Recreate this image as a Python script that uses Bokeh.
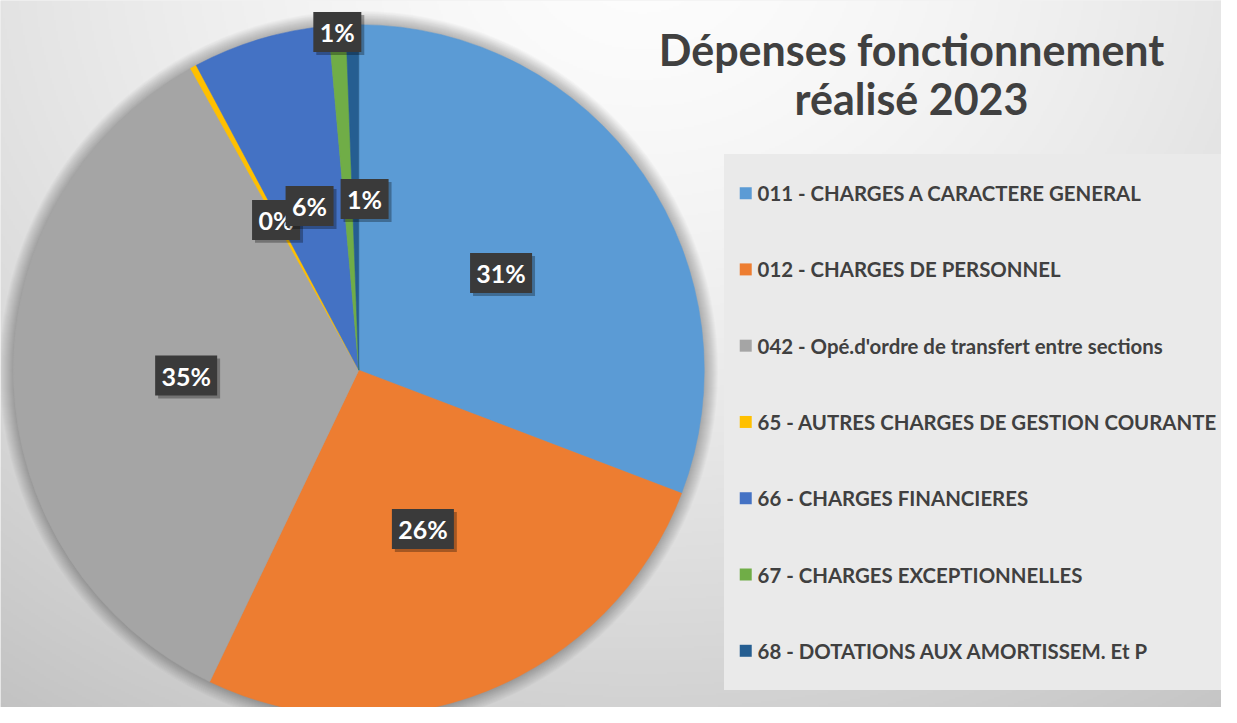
import math
import numpy as np
from bokeh.plotting import figure
from bokeh.models import Range1d, ColumnDataSource
from bokeh.core.properties import value
from bokeh.embed import file_html
from bokeh.resources import INLINE

# ---------------- data ----------------
categories = [
    "011 - CHARGES A CARACTERE GENERAL",
    "012 - CHARGES DE PERSONNEL",
    "042 - Opé.d'ordre de transfert entre sections",
    "65 - AUTRES CHARGES DE GESTION COURANTE",
    "66 - CHARGES FINANCIERES",
    "67 - CHARGES EXCEPTIONNELLES",
    "68 - DOTATIONS AUX AMORTISSEM. Et P",
]
shares = [30.8, 26.3, 34.8, 0.3, 6.4, 0.8, 0.6]
colors = ["#5B9BD5", "#ED7D31", "#A5A5A5", "#FFC000", "#4472C4", "#70AD47", "#255E91"]
title_lines = ["Dépenses fonctionnement", "réalisé 2023"]

# ---------------- styling / layout ----------------
REF_W, REF_H = 1237, 723
W, H = REF_W - 16, REF_H - 16
FONT = "Lato"
TXT = "#404040"


def Y(py):
    return REF_H - py


cx, cy, R = 363, Y(378), 350
label_r = [0.5, 0.5, 0.5, 0.5, 0.5, 0.99, 0.5]
label_shift_deg = [0, 0, 0, 0, 0, 0, 3]

p = figure(width=W, height=H, x_range=Range1d(0, REF_W), y_range=Range1d(0, REF_H),
           x_axis_type=None, y_axis_type=None, toolbar_location=None,
           output_backend="svg", min_border=0)
p.grid.visible = False
p.outline_line_color = None
p.background_fill_color = "#e6e6e6"
p.border_fill_color = "#e6e6e6"

# background gradient
hw, hh = 619, 362
xs = (np.arange(hw) + 0.5) * REF_W / hw
ys = (np.arange(hh) + 0.5) * REF_H / hh
XX, YY = np.meshgrid(xs, ys)
rr = np.sqrt(((XX - 650) / 1000.0) ** 2 + ((YY + 50) / 850.0) ** 2)
g = 253 - 57 * np.clip(rr / 1.1, 0, 1.2) ** 1.5
g = np.clip(g, 0, 255).astype(np.uint8)[::-1]
img = np.empty((hh, hw), dtype=np.uint32)
view = img.view(dtype=np.uint8).reshape((hh, hw, 4))
view[..., 0] = g
view[..., 1] = g
view[..., 2] = g
view[..., 3] = 255
p.image_rgba(image=[img], x=0, y=0, dw=REF_W, dh=REF_H)

# pie shadow
for k in range(1, 15):
    p.circle(x=cx, y=cy, radius=R + k, fill_color="black", fill_alpha=0.02, line_color=None)

# pie wedges
total = sum(shares)
fr = [s / total for s in shares]
cum = np.concatenate([[0.0], np.cumsum(fr)])
starts = [math.pi / 2 - 2 * math.pi * cum[i] for i in range(len(fr))]
ends = [math.pi / 2 - 2 * math.pi * cum[i + 1] for i in range(len(fr))]
src = ColumnDataSource(dict(start=starts, end=ends, color=colors))
p.wedge(x=cx, y=cy, radius=R, start_angle="start", end_angle="end", direction="clock",
        fill_color="color", line_color="color", line_width=0.5, source=src)

# data labels
lx, ly, lt, lw = [], [], [], []
for i, f in enumerate(fr):
    mid = 2 * math.pi * (cum[i] + f / 2) + math.radians(label_shift_deg[i])
    rr_ = R * label_r[i]
    lx.append(cx + rr_ * math.sin(mid))
    ly.append(cy + rr_ * math.cos(mid))
    t = f"{round(f * 100)}%"
    lt.append(t)
    lw.append(20 + 14 * len(t))
for i in range(len(lt)):
    p.rect(x=lx[i] + 3, y=ly[i] - 3, width=lw[i], height=40, width_units="screen",
           height_units="screen", fill_color="black", fill_alpha=0.3, line_color=None)
    p.rect(x=lx[i], y=ly[i], width=lw[i], height=40, width_units="screen",
           height_units="screen", fill_color="#3a3a3a", line_color=None)
    p.text(x=[lx[i]], y=[ly[i]], text=[lt[i]], text_font=value(FONT), text_font_style="bold",
           text_font_size="25px", text_color="white", text_align="center",
           text_baseline="middle")

# title
p.text(x=[923, 923], y=[Y(50), Y(100)], text=title_lines, text_font=value(FONT),
       text_font_style="bold", text_font_size="43px", text_color=TXT,
       text_align="center", text_baseline="middle")

# legend
p.quad(left=733, right=REF_W + 10, top=Y(157), bottom=Y(705), fill_color="#eaeaea",
       line_color=None)
leg_y = [Y(197 + 78 * i) for i in range(len(categories))]
p.rect(x=[755] * len(categories), y=leg_y, width=12, height=12, width_units="screen",
       height_units="screen", fill_color=colors, line_color=None)
p.text(x=[767] * len(categories), y=leg_y, text=categories, text_font=value(FONT),
       text_font_style="bold", text_font_size="20.4px", text_color=TXT,
       text_align="left", text_baseline="middle")

open("out.html", "w").write(file_html(p, INLINE))
